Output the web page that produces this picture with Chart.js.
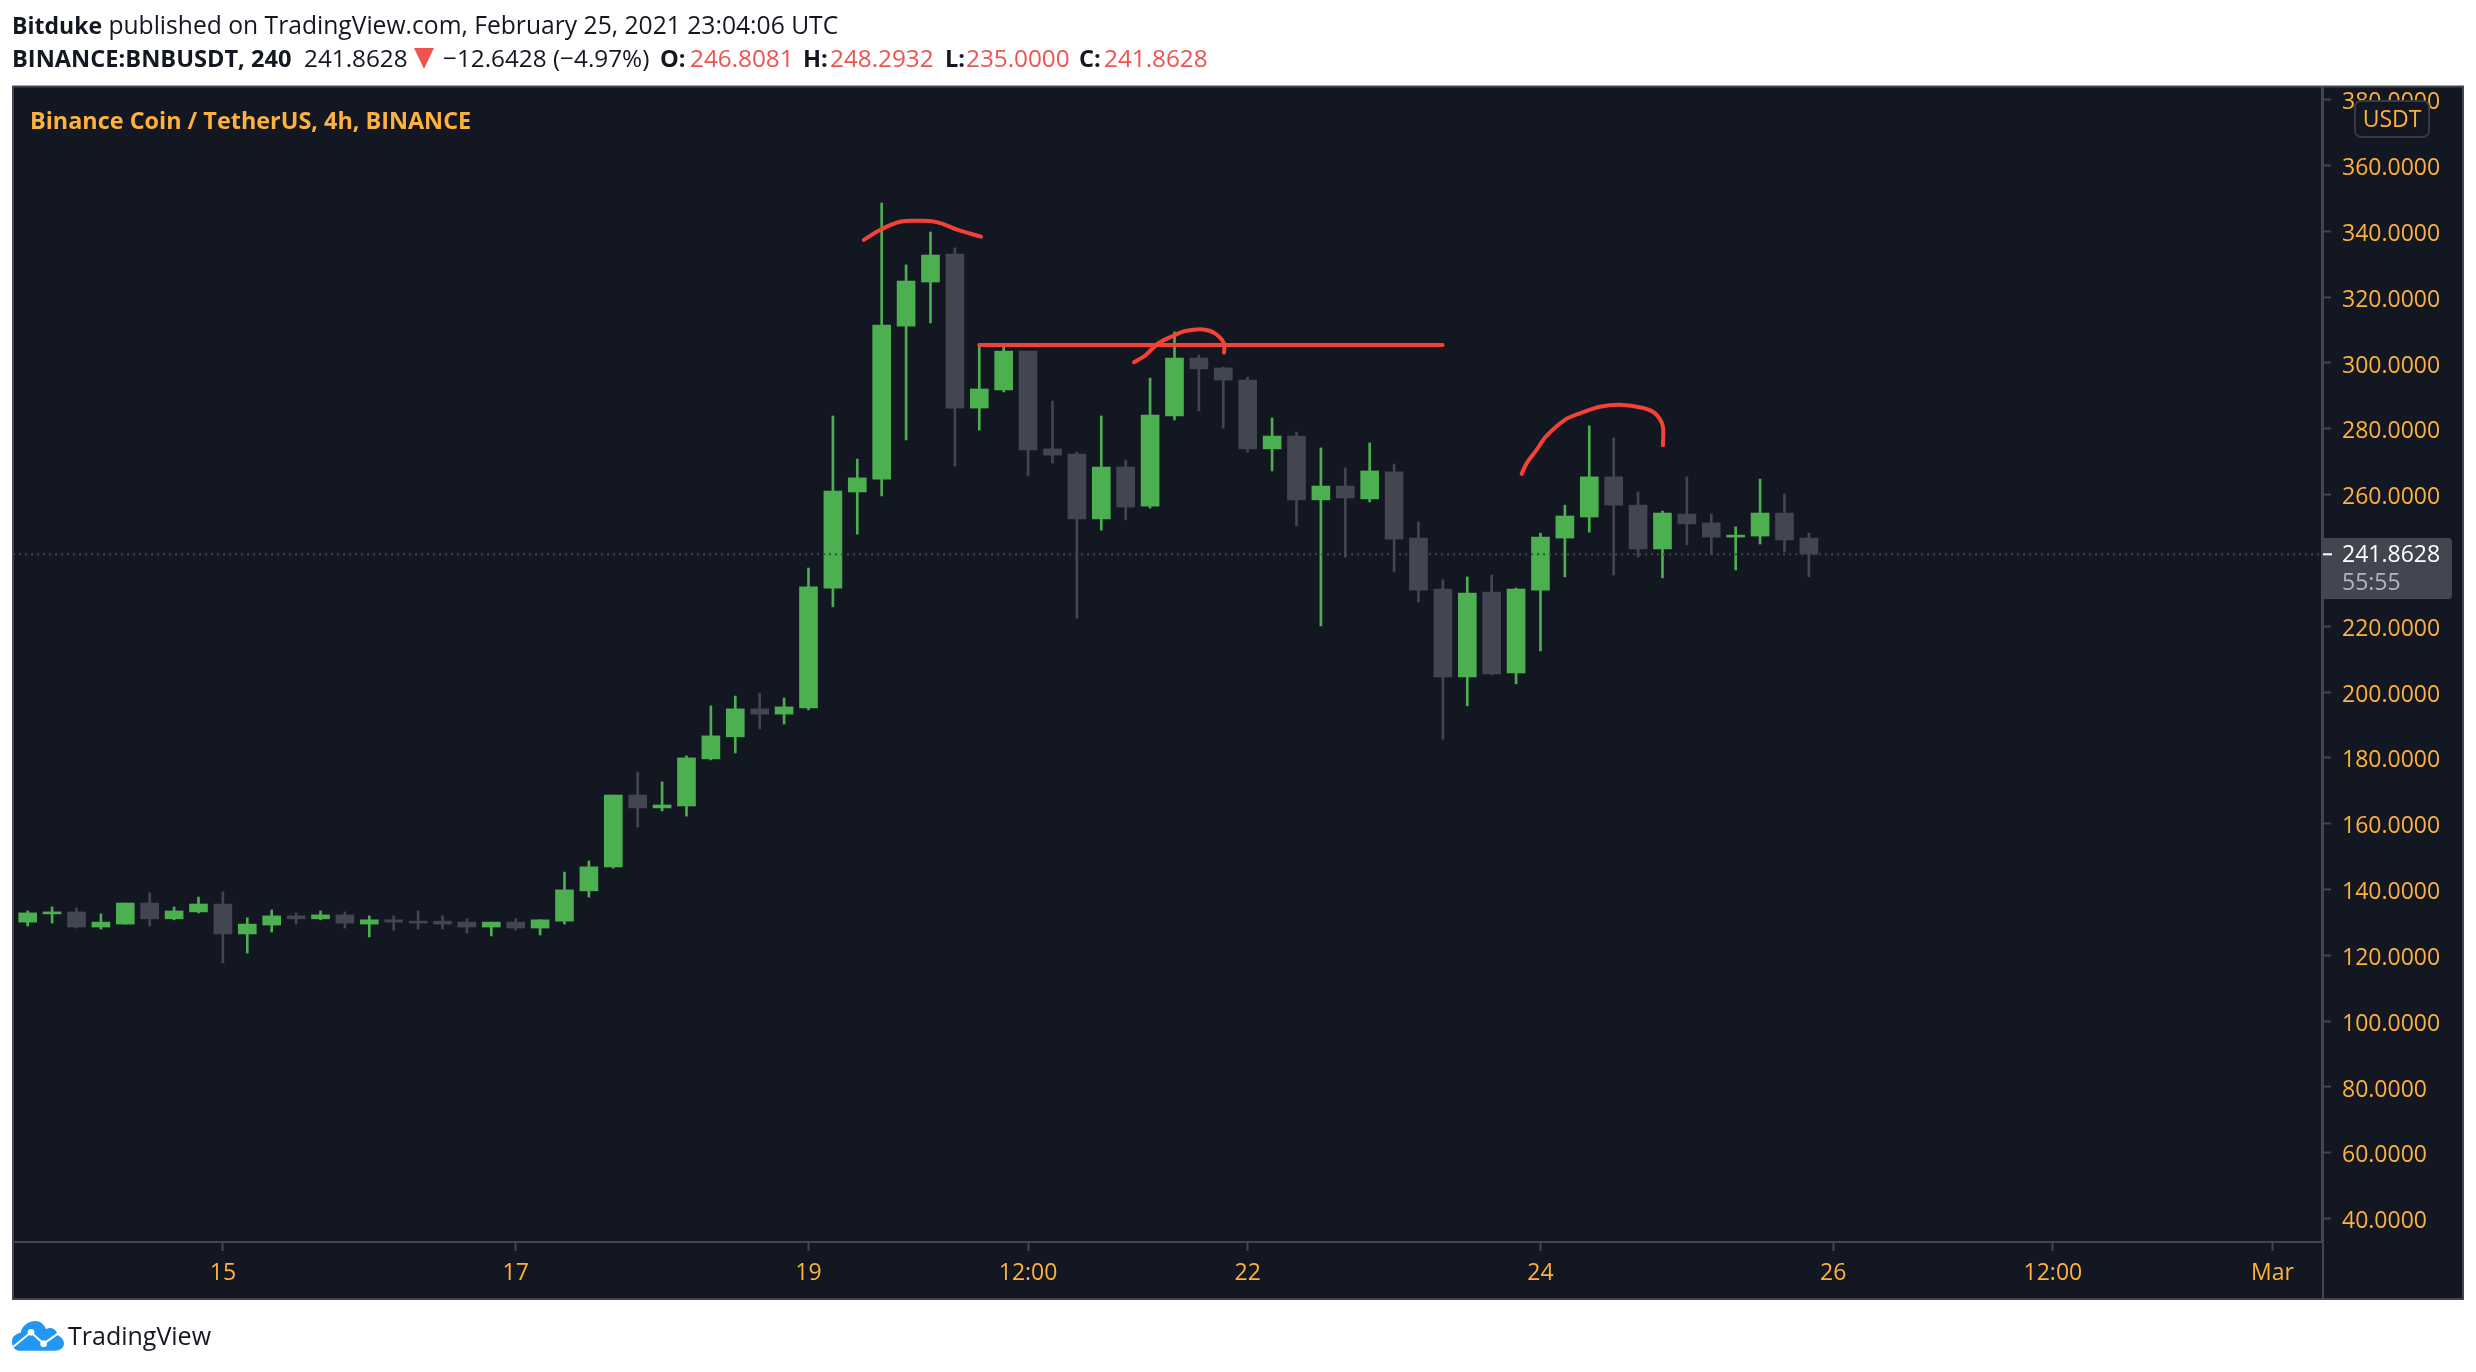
<!DOCTYPE html>
<html>
<head>
<meta charset="utf-8">
<title>BNBUSDT</title>
<script src="https://cdn.jsdelivr.net/npm/chart.js@4/dist/chart.umd.min.js"></script>
<style>
  html, body { margin: 0; padding: 0; background: #fff; }
  body { width: 2476px; height: 1372px; position: relative; overflow: hidden; font-family: "Open Sans", sans-serif; }
  canvas { position: absolute; left: 0; top: 0; }
  .t { position: absolute; white-space: nowrap; font-size: 24.3px; line-height: 30px; color: #131722; }
  .b { font-weight: 700; font-size: 23.6px; }
  .r { color: #ef5350; }
</style>
</head>
<body>
<canvas id="chart" width="2476" height="1372"></canvas>

<div class="t" style="left:12px;top:10px;font-size:24.65px"><span class="b" style="font-size:23px">Bitduke</span> published on TradingView.com, February 25, 2021 23:04:06 UTC</div>
<div class="t b" style="left:12px;top:43px">BINANCE:BNBUSDT, 240</div>
<div class="t" style="left:304px;top:43px">241.8628</div>
<svg style="position:absolute;left:414px;top:48px" width="22" height="22"><path d="M0 0H20L10 21Z" fill="#ef5350"/></svg>
<div class="t" style="left:443px;top:43px">−12.6428 (−4.97%)</div>
<div class="t b" style="left:660px;top:43px">O:</div>
<div class="t r" style="left:690px;top:43px">246.8081</div>
<div class="t b" style="left:803px;top:43px">H:</div>
<div class="t r" style="left:830px;top:43px">248.2932</div>
<div class="t b" style="left:945px;top:43px">L:</div>
<div class="t r" style="left:966px;top:43px">235.0000</div>
<div class="t b" style="left:1079px;top:43px">C:</div>
<div class="t r" style="left:1104px;top:43px">241.8628</div>
<div class="t b" style="left:30px;top:105px;font-size:23.4px;color:#ffb13e">Binance Coin / TetherUS, 4h, BINANCE</div>

<svg style="position:absolute;left:0;top:1300px" width="240" height="70" viewBox="0 0 720 210">
  <path d="M60 152C40 152 36 135 36 125C36 108 50 100 62 98C66 78 85 63 105 63C125 63 135 78 138 88C150 80 170 85 172 105C185 112 192 120 192 130C192 145 180 152 165 152Z" fill="#2196f3"/>
  <path d="M40 140L93 97L131 131L178 98" fill="none" stroke="#fff" stroke-width="6"/>
  <circle cx="93" cy="97" r="10" fill="#fff"/>
  <circle cx="131" cy="131" r="10" fill="#fff"/>
</svg>
<div class="t" style="left:68px;top:1320px;font-size:25px">TradingView</div>

<script>
// 4h candles
const opens = [130.1,132.6,133.2,128.6,129.5,135.9,131.1,133.2,135.6,126.5,129.2,132.0,131.1,132.3,129.5,130.8,130.4,130.4,130.1,128.6,130.1,128.3,130.4,139.6,146.9,168.7,164.8,165.4,179.7,186.4,194.9,193.3,195.2,231.6,260.8,264.7,311.2,324.6,333.1,286.3,291.8,303.6,273.9,272.3,252.6,268.4,256.5,283.9,301.5,298.5,294.8,273.9,277.8,258.4,262.6,258.7,266.9,246.8,231.3,204.6,230.4,205.8,231.0,246.8,253.2,265.4,256.8,243.5,254.1,251.4,247.1,247.4,254.4,246.8];
const highs = [133.5,134.7,134.4,132.6,135.9,139.0,134.7,137.7,139.3,131.4,133.8,132.9,133.5,133.2,132.0,132.0,133.5,132.0,131.1,130.1,131.1,130.8,145.3,148.7,168.7,175.7,172.7,180.6,195.8,198.8,199.7,198.2,237.7,283.9,270.8,348.6,329.8,339.8,335.0,305.8,305.2,303.6,288.4,272.9,283.9,270.5,295.4,309.4,302.4,298.8,295.7,283.3,279.0,274.2,268.1,275.7,269.3,251.7,234.1,235.0,235.6,231.6,248.3,256.8,280.9,277.2,260.8,255.0,265.4,254.1,250.2,264.7,260.2,248.3];
const lows = [128.9,129.8,128.3,128.0,129.5,128.9,130.8,132.9,117.7,120.7,127.1,129.5,130.8,128.3,125.6,127.7,128.0,128.0,126.8,125.9,127.7,126.2,129.5,137.7,146.5,159.0,163.9,162.3,179.4,181.5,188.8,190.3,194.6,225.9,248.0,259.6,276.6,312.2,268.7,279.6,291.2,265.7,269.6,222.5,249.2,252.3,255.9,282.7,285.4,280.2,272.9,267.2,250.5,220.1,241.0,257.8,236.5,227.4,185.7,195.8,205.2,202.5,212.5,235.0,248.6,235.6,241.0,234.7,244.7,241.7,237.1,245.0,242.6,235.0];
const closes = [132.9,133.2,128.6,130.1,135.9,131.1,133.5,135.6,126.5,129.5,132.0,131.1,132.3,129.8,130.8,130.1,129.8,129.5,128.6,130.1,128.3,130.8,139.9,146.9,168.7,164.8,165.7,180.0,186.7,194.9,193.3,195.5,232.0,261.1,265.1,311.5,324.9,332.8,286.3,292.1,303.6,273.6,272.0,252.6,268.4,256.2,284.2,301.5,298.2,294.8,273.9,277.8,258.4,262.6,259.0,267.2,246.5,231.0,204.6,230.1,205.5,231.3,247.1,253.5,265.4,256.8,243.5,254.4,251.1,247.1,247.7,254.4,246.2,241.9];

const priceTicks = [380,360,340,320,300,280,260,240,220,200,180,160,140,120,100,80,60,40];
const timeTickPositions = [8,20,32,41,50,62,74,83,92];
const timeTickLabels = ['15','17','19','12:00','22','24','26','12:00','Mar'];
const lastPrice = 241.8628;

// hand drawn red marks, as candle index / price
const arc1X = [34.27,34.93,35.75,36.43,37.25,38.21,39.07];
const arc1Y = [337.4,340.4,342.9,343.2,342.8,340.2,338.4];
const levelX = [39.0,57.99];
const levelY = [305.5,305.5];
const arc2X = [45.34,45.79,46.34,47.02,47.43,48.18,48.66,49.03,49.03];
const arc2Y = [300.2,302.2,306.0,308.5,309.7,310.2,309.0,306.0,303.1];
const arc3X = [61.23,61.43,61.84,62.22,63.0,63.62,64.44,65.26,66.21,66.69,67.01,67.02];
const arc3Y = [266.3,269.5,273.6,277.6,282.7,284.7,286.7,287.3,286.3,284.7,280.9,275.0];

const GREEN = '#4caf50';
const GREY = '#434651';
const RED = '#f44336';
const ORANGE = '#ffb13e';
const BG = '#131722';
const FONT = '"Open Sans", sans-serif';

const candleColor = opens.map((o, i) => closes[i] >= o ? GREEN : GREY);

function redLine(xs, ys, tension) {
    return {
        type: 'line',
        data: xs.map((x, i) => ({ x: x, y: ys[i] })),
        borderColor: RED,
        borderWidth: 4,
        borderCapStyle: 'round',
        borderJoinStyle: 'round',
        pointRadius: 0,
        tension: tension,
        order: 0
    };
}

// frame around the chart, last price badge and the USDT box
const chrome = {
    id: 'chrome',
    beforeDraw(chart) {
        const ctx = chart.ctx;
        ctx.save();
        ctx.fillStyle = BG;
        ctx.fillRect(13, 86, 2450, 1213);
        ctx.restore();
    },
    afterDraw(chart) {
        const ctx = chart.ctx;
        const y = chart.scales.y.getPixelForValue(lastPrice);
        ctx.save();
        ctx.strokeStyle = GREY;
        ctx.lineWidth = 2;
        ctx.strokeRect(13, 86.5, 2450, 1212.5);
        ctx.beginPath();
        ctx.moveTo(2323, 87);
        ctx.lineTo(2323, 1299);
        ctx.stroke();

        ctx.fillStyle = GREY;
        ctx.beginPath();
        ctx.roundRect(2322, 538, 130, 61, [0, 4, 4, 0]);
        ctx.fill();
        ctx.fillStyle = '#fff';
        ctx.fillRect(2323, y - 1, 9, 2);
        ctx.font = '23px ' + FONT;
        ctx.textBaseline = 'middle';
        ctx.fillText(lastPrice.toFixed(4), 2342, y + 1);
        ctx.fillStyle = '#b2b5be';
        ctx.fillText('55:55', 2342, y + 29);

        ctx.fillStyle = BG;
        ctx.strokeStyle = '#363a45';
        ctx.beginPath();
        ctx.roundRect(2355, 101, 74, 36, 6);
        ctx.fill();
        ctx.stroke();
        ctx.fillStyle = ORANGE;
        ctx.textAlign = 'center';
        ctx.fillText('USDT', 2392, 120);
        ctx.restore();
    }
};

new Chart(document.getElementById('chart').getContext('2d'), {
    type: 'bar',
    data: {
        datasets: [
            {
                // bodies
                data: opens.map((o, i) => ({ x: i, y: [o, closes[i]] })),
                backgroundColor: candleColor,
                barThickness: 18,
                grouped: false,
                borderWidth: 0,
                order: 2
            },
            {
                // wicks
                data: lows.map((l, i) => ({ x: i, y: [l, highs[i]] })),
                backgroundColor: candleColor,
                barThickness: 2,
                grouped: false,
                borderWidth: 0,
                order: 3
            },
            {
                // last price line
                type: 'line',
                data: [{ x: -0.6, y: lastPrice }, { x: 94.1, y: lastPrice }],
                borderColor: GREY,
                borderWidth: 2,
                borderDash: [2, 4],
                pointRadius: 0,
                order: 1
            },
            redLine(arc1X, arc1Y, 0.4),
            redLine(levelX, levelY, 0),
            redLine(arc2X, arc2Y, 0.3),
            redLine(arc3X, arc3Y, 0.3)
        ]
    },
    options: {
        responsive: false,
        animation: false,
        devicePixelRatio: 1,
        layout: { padding: { left: 14, right: 13, top: 87, bottom: 73 } },
        plugins: { legend: { display: false }, tooltip: { enabled: false } },
        scales: {
            x: {
                type: 'linear',
                offset: false,
                min: -0.5615,
                max: 94.03,
                afterBuildTicks: scale => { scale.ticks = timeTickPositions.map(v => ({ value: v })); },
                afterFit: scale => { scale.height = 57; },
                border: { color: GREY, width: 2 },
                grid: { offset: false, drawOnChartArea: false, color: GREY, tickLength: 9, tickWidth: 2 },
                ticks: {
                    color: ORANGE,
                    font: { family: FONT, size: 23 },
                    padding: 9,
                    maxRotation: 0,
                    autoSkip: false,
                    callback: v => timeTickLabels[timeTickPositions.indexOf(v)]
                }
            },
            y: {
                position: 'right',
                min: 32.9,
                max: 383.86,
                afterBuildTicks: scale => { scale.ticks = priceTicks.map(v => ({ value: v })); },
                afterFit: scale => { scale.width = 141; },
                border: { color: GREY, width: 2 },
                grid: { drawOnChartArea: false, color: GREY, tickLength: 9, tickWidth: 2 },
                ticks: {
                    color: ORANGE,
                    font: { family: FONT, size: 23 },
                    padding: 11,
                    labelOffset: 3,
                    autoSkip: false,
                    callback: v => v.toFixed(4)
                }
            }
        }
    },
    plugins: [chrome]
});
</script>
</body>
</html>
